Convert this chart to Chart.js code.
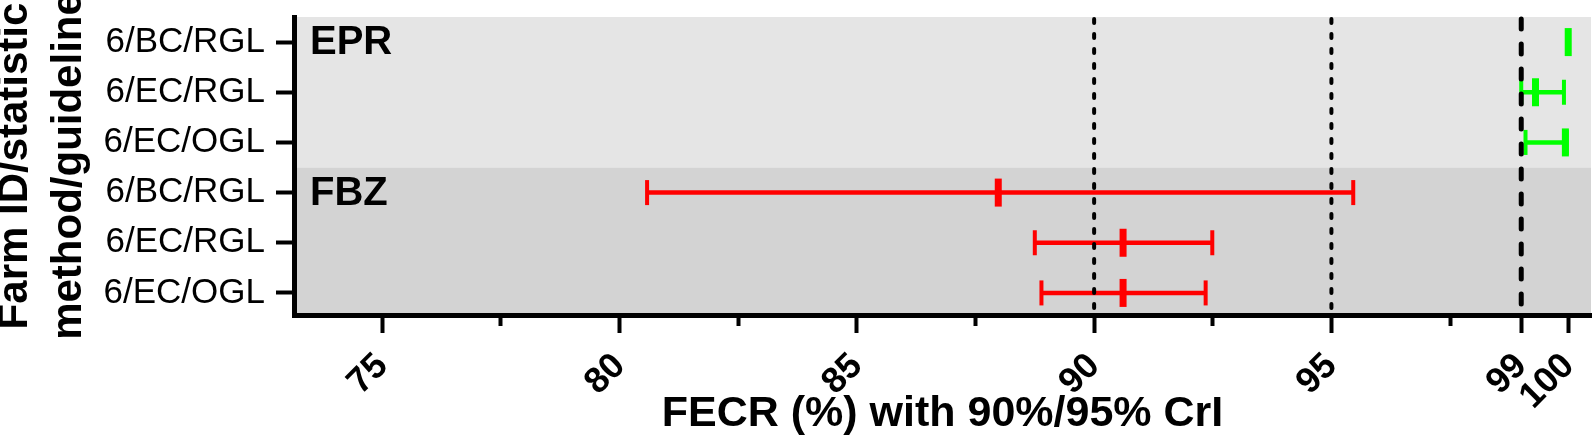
<!DOCTYPE html>
<html>
<head>
<meta charset="utf-8">
<title>FECR with 90%/95% CrI</title>
<script src="https://cdn.jsdelivr.net/npm/chart.js@4"></script>
<style>
  body { margin: 0; background: #fff; }
  #wrap { position: relative; width: 1595px; height: 438px; }
</style>
</head>
<body>
<div id="wrap"><canvas id="fecrChart"></canvas></div>
<script>
// Rows from top to bottom (farm ID / statistic method / guideline)
const rowLabels = ['6/BC/RGL', '6/EC/RGL', '6/EC/OGL', '6/BC/RGL', '6/EC/RGL', '6/EC/OGL'];
const rowGroup = ['EPR', 'EPR', 'EPR', 'FBZ', 'FBZ', 'FBZ'];

// FECR point estimate and credible interval limits (%)
const fecr = [99.99, 99.30, 99.93, 87.98, 90.61, 90.61];
const lowerCrI = [99.98, 99.00, 99.09, 80.58, 88.75, 88.89];
const upperCrI = [100.0, 99.90, 99.96, 95.46, 92.49, 92.35];

const groupNames = ['EPR', 'FBZ'];
const groupColors = { EPR: '#00ff00', FBZ: '#ff0000' };
const groupShades = { EPR: '#e5e5e5', FBZ: '#d3d3d3' };

// x axis ticks, empty label = minor tick
const xTicks = [75, 77.5, 80, 82.5, 85, 87.5, 90, 92.5, 95, 97.5, 99, 100];
const xLabels = ['75', '', '80', '', '85', '', '90', '', '95', '', '99', '100'];

// vertical reference lines: dotted at 90 and 95, dashed at 99
const refLines = [90, 95, 99];
const refDash = [[4, 11], [4, 11], [10, 15]];
const refWidth = [4, 4, 5];

const FONT = "'Liberation Sans', Arial, Helvetica, sans-serif";
Chart.defaults.color = '#000';
Chart.defaults.font.family = FONT;

const rowIdx = rowLabels.map((_, i) => i);

// horizontal interval lines, one per row
const segments = rowIdx.map(i => ({
    data: [{ x: lowerCrI[i], y: i }, { x: upperCrI[i], y: i }],
    showLine: true,
    borderColor: groupColors[rowGroup[i]],
    borderWidth: 4.5,
    pointRadius: 0
}));

// end caps of the intervals
const caps = {
    data: rowIdx.flatMap(i => [{ x: lowerCrI[i], y: i }, { x: upperCrI[i], y: i }]),
    pointStyle: 'line',
    rotation: 90,
    radius: 12.5,
    borderWidth: 4,
    borderColor: rowIdx.flatMap(i => [groupColors[rowGroup[i]], groupColors[rowGroup[i]]])
};

// point estimate marker (taller, thicker bar)
const centers = {
    data: rowIdx.map(i => ({ x: fecr[i], y: i })),
    pointStyle: 'line',
    rotation: 90,
    radius: 14,
    borderWidth: 7,
    borderColor: rowIdx.map(i => groupColors[rowGroup[i]])
};

// no automatic padding from the scales, the layout is fixed
function noPadding(scale) {
    scale.paddingTop = 0;
    scale.paddingBottom = 0;
    scale.paddingLeft = 0;
    scale.paddingRight = 0;
}

// grey bands behind each group, group names and reference lines
const backdrop = {
    id: 'backdrop',
    beforeDraw(chart) {
        const { ctx, chartArea: a, scales: { y } } = chart;
        ctx.save();
        groupNames.forEach(g => {
            const idx = rowIdx.filter(i => rowGroup[i] === g);
            const top = Math.max(a.top, y.getPixelForValue(Math.min(...idx) - 0.5));
            const bottom = Math.min(a.bottom, y.getPixelForValue(Math.max(...idx) + 0.5));
            ctx.fillStyle = groupShades[g];
            ctx.fillRect(a.left, top, a.right - a.left, bottom - top);
        });
        ctx.restore();
    },
    afterDatasetsDraw(chart) {
        const { ctx, chartArea: a, scales: { x, y } } = chart;
        ctx.save();
        ctx.fillStyle = '#000';
        ctx.font = 'bold 40px ' + FONT;
        ctx.textBaseline = 'middle';
        ctx.textAlign = 'left';
        groupNames.forEach(g => {
            const first = rowGroup.indexOf(g);
            ctx.fillText(g, a.left + 16, y.getPixelForValue(first) + 1);
        });

        ctx.strokeStyle = '#000';
        ctx.lineCap = 'round';
        refLines.forEach((v, k) => {
            const px = x.getPixelForValue(v);
            ctx.lineWidth = refWidth[k];
            ctx.setLineDash(refDash[k]);
            ctx.beginPath();
            ctx.moveTo(px, a.top + 2);
            ctx.lineTo(px, a.bottom);
            ctx.stroke();
        });
        ctx.restore();
    }
};

new Chart(document.getElementById('fecrChart'), {
    type: 'scatter',
    data: { datasets: [centers, caps, ...segments] },
    options: {
        responsive: true,
        maintainAspectRatio: false,
        animation: false,
        layout: { autoPadding: false, padding: { top: 17, right: 4, bottom: 0, left: 0 } },
        plugins: { legend: { display: false }, tooltip: { enabled: false } },
        scales: {
            x: {
                type: 'linear',
                min: 73.14,
                max: 100.47,
                afterBuildTicks: scale => { scale.ticks = xTicks.map(v => ({ value: v })); },
                afterFit: scale => { scale.height = 123; noPadding(scale); },
                ticks: {
                    autoSkip: false,
                    minRotation: 45,
                    maxRotation: 45,
                    padding: 12,
                    font: { size: 36, weight: 'bold' },
                    callback: (v, i) => xLabels[i]
                },
                grid: {
                    drawOnChartArea: false,
                    color: '#000',
                    tickColor: '#000',
                    tickLength: 18,
                    tickWidth: 4,
                    tickBorderDash: ctx => (xLabels[ctx.index] === '' ? [8, 40] : [])
                },
                border: { display: true, color: '#000', width: 5 },
                title: {
                    display: true,
                    text: 'FECR (%) with 90%/95% CrI',
                    font: { size: 43, weight: 'bold', lineHeight: 1 },
                    padding: { top: 0, bottom: 2 }
                }
            },
            y: {
                type: 'linear',
                reverse: true,
                min: -0.5,
                max: 5.44,
                afterBuildTicks: scale => { scale.ticks = rowIdx.map(v => ({ value: v })); },
                afterFit: scale => { scale.width = 294; noPadding(scale); },
                ticks: {
                    padding: 11,
                    font: { size: 35 },
                    callback: v => rowLabels[v]
                },
                grid: {
                    drawOnChartArea: false,
                    color: '#000',
                    tickColor: '#000',
                    tickLength: 18,
                    tickWidth: 4
                },
                border: { display: true, color: '#000', width: 5 },
                title: {
                    display: true,
                    text: ['Farm ID/statistic', 'method/guideline'],
                    font: { size: 42, weight: 'bold', lineHeight: 1.28 },
                    padding: { top: -11, bottom: 0 }
                }
            }
        }
    },
    plugins: [backdrop]
});
</script>
</body>
</html>
